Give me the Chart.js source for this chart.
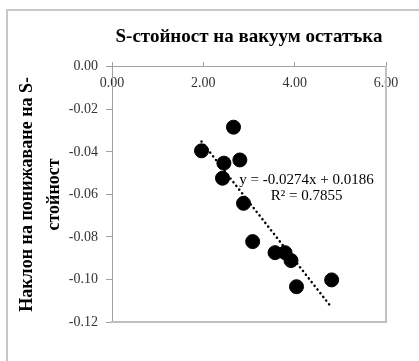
<!DOCTYPE html>
<html>
<head>
<meta charset="utf-8">
<script src="https://cdn.jsdelivr.net/npm/chart.js@4/dist/chart.umd.min.js"></script>
<style>
  body { margin: 0; background: #fff; }
  #frame { position: absolute; left: 6px; top: 9px; width: 500px; height: 500px; border: 2px solid #c8c8c8; }
  #wrap { position: absolute; left: 0; top: 0; width: 419px; height: 361px; }
</style>
</head>
<body>
<div id="frame"></div>
<div id="wrap"><canvas id="chart" width="419" height="361"></canvas></div>
<script>
// values
const xValues = [1.96, 2.45, 2.42, 2.66, 2.80, 2.88, 3.08, 3.57, 3.79, 3.92, 4.04, 4.81];
const yValues = [-0.0395, -0.0453, -0.0524, -0.0284, -0.0438, -0.0642, -0.0822, -0.0874, -0.0874, -0.0911, -0.1034, -0.1002];
const xTickLabels = ["0.00", "2.00", "4.00", "6.00"];
const yTickLabels = ["-0.12", "-0.10", "-0.08", "-0.06", "-0.04", "-0.02", "0.00"];
const trendSlope = -0.0274;
const trendIntercept = 0.0186;
const trendText = ["y = -0.0274x + 0.0186", "R\u00b2 = 0.7855"];

const serif = "'Liberation Serif', 'Times New Roman', serif";

const points = xValues.map((x, i) => ({ x: x, y: yValues[i] }));
const xMin = Math.min(...xValues);
const xMax = Math.max(...xValues);
const trend = [xMin, xMax].map(x => ({ x: x, y: trendSlope * x + trendIntercept }));

// equation label, placed in data coordinates
const trendLabel = {
  id: "trendLabel",
  afterDatasetsDraw(chart) {
    const ctx = chart.ctx;
    const xs = chart.scales.x, ys = chart.scales.y;
    ctx.save();
    ctx.font = "15px " + serif;
    ctx.fillStyle = "#000";
    ctx.textAlign = "center";
    ctx.textBaseline = "middle";
    ctx.fillText(trendText[0], xs.getPixelForValue(4.26), ys.getPixelForValue(-0.0532));
    ctx.fillText(trendText[1], xs.getPixelForValue(4.26), ys.getPixelForValue(-0.0610));
    ctx.restore();
  }
};

new Chart(document.getElementById("chart"), {
  type: "scatter",
  data: {
    datasets: [
      {
        data: points,
        backgroundColor: "#000",
        borderColor: "#000",
        pointRadius: 7,
        pointHoverRadius: 7
      },
      {
        type: "line",
        data: trend,
        borderColor: "#000",
        borderWidth: 2.5,
        borderDash: [0.1, 4.6],
        borderCapStyle: "round",
        pointRadius: 0,
        fill: false
      }
    ]
  },
  plugins: [trendLabel],
  options: {
    responsive: false,
    animation: false,
    devicePixelRatio: 1,
    layout: { padding: { left: 8, top: 10, right: 33, bottom: 39 } },
    plugins: {
      legend: { display: false },
      tooltip: { enabled: false },
      title: {
        display: true,
        fullSize: false,
        text: "S-стойност на вакуум остатъка",
        color: "#000",
        font: { family: serif, size: 19, weight: "bold" },
        padding: { top: 16, bottom: 18 }
      }
    },
    scales: {
      x: {
        type: "linear",
        position: { y: 0 },
        min: 0,
        max: 6,
        ticks: {
          stepSize: 2,
          padding: 13,
          color: "#333",
          font: { family: serif, size: 14 },
          callback: (v, i) => xTickLabels[i]
        },
        grid: { drawOnChartArea: false, tickLength: -5, color: "#a0a0a0" },
        border: { color: "#a0a0a0", width: 1 },
        afterFit: s => { s.paddingLeft = 0; s.paddingRight = 0; }
      },
      y: {
        position: "left",
        min: -0.12,
        max: 0,
        ticks: {
          stepSize: 0.02,
          padding: 8,
          color: "#333",
          font: { family: serif, size: 14 },
          callback: (v, i) => yTickLabels[i]
        },
        grid: { drawOnChartArea: false, tickLength: 6, color: "#a0a0a0" },
        border: { color: "#a0a0a0", width: 1 },
        title: {
          display: true,
          text: ["Наклон на понижаване на S-", "стойност"],
          color: "#000",
          font: { family: serif, size: 18, weight: "bold", lineHeight: 1.5 },
          padding: { top: 6, bottom: 0 }
        },
        afterFit: s => { s.width = 104; s.paddingTop = 0; s.paddingBottom = 0; }
      },
      x2: {
        type: "linear",
        position: "bottom",
        min: 0,
        max: 6,
        ticks: { display: false },
        grid: { display: false, drawTicks: false },
        border: { color: "#c0c0c0", width: 2 }
      },
      y2: {
        type: "linear",
        position: "right",
        min: -0.12,
        max: 0,
        ticks: { display: false },
        grid: { display: false, drawTicks: false },
        border: { color: "#c0c0c0", width: 2 }
      }
    }
  }
});
</script>
</body>
</html>
